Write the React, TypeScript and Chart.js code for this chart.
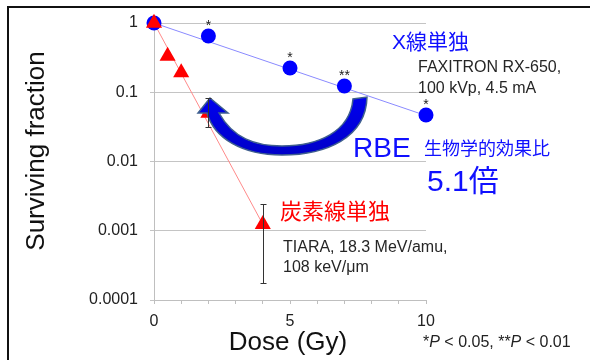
import React, { useEffect, useRef } from 'react';
import { Chart, registerables } from 'chart.js';

Chart.register(...registerables);

// ---- data ----
const xrayDose = [0, 2, 5, 7, 10];
const xraySurv = [1, 0.65, 0.224, 0.123, 0.047];
const xraySig = ['', '*', '*', '**', '*'];

const carbonDose = [0, 0.5, 1, 2, 4];
const carbonSurv = [1, 0.334, 0.192, 0.05, 0.00124];
const carbonErrLow = [null, null, null, 0.031, 0.000177];
const carbonErrHigh = [null, null, null, 0.083, 0.00245];

const xrayFitDose = [0, 10];
const xrayFitSurv = [1, 0.046];
const carbonFitDose = [0, 4];
const carbonFitSurv = [1, 0.00124];

const yTickValues = [0.0001, 0.001, 0.01, 0.1, 1];
const yTickLabels = ['0.0001', '0.001', '0.01', '0.1', '1'];
const xTickLabels = ['0', '5', '10'];

const xTitle = 'Dose (Gy)';
const yTitle = 'Surviving fraction';

const FONT = '"Liberation Sans", Arial, "Noto Sans CJK JP", sans-serif';

const toXY = (xs: number[], ys: number[]) => xs.map((x, i) => ({ x, y: ys[i] }));

function drawText(ctx: CanvasRenderingContext2D, text: string, x: number, y: number, size: number, color: string, align: CanvasTextAlign = 'left', baseline: CanvasTextBaseline = 'middle') {
  ctx.save();
  ctx.font = `${size}px ${FONT}`;
  ctx.fillStyle = color;
  ctx.textAlign = align;
  ctx.textBaseline = baseline;
  ctx.fillText(text, x, y);
  ctx.restore();
}

const overlayPlugin = {
  id: 'overlay',
  afterDatasetsDraw(chart: any) {
    const ctx: CanvasRenderingContext2D = chart.ctx;
    const xs = chart.scales.x;
    const ys = chart.scales.y;

    // curved RBE arrow
    ctx.save();
    ctx.beginPath();
    ctx.moveTo(210, 98);
    ctx.lineTo(228, 113);
    ctx.lineTo(219, 113);
    ctx.bezierCurveTo(233, 138, 255, 146, 282, 146);
    ctx.bezierCurveTo(318, 146, 350, 132, 353, 99);
    ctx.lineTo(367, 97);
    ctx.bezierCurveTo(366, 138, 326, 155, 282, 155);
    ctx.bezierCurveTo(242, 155, 214, 138, 207, 113);
    ctx.lineTo(198, 113);
    ctx.closePath();
    const g = ctx.createLinearGradient(0, 95, 0, 156);
    g.addColorStop(0, '#0000f0');
    g.addColorStop(1, '#0000c8');
    ctx.fillStyle = g;
    ctx.fill();
    ctx.lineWidth = 1.5;
    ctx.strokeStyle = '#3f5f8e';
    ctx.stroke();
    ctx.restore();

    // error bars
    ctx.save();
    ctx.strokeStyle = '#333333';
    ctx.lineWidth = 1;
    carbonDose.forEach((d, i) => {
      const lo = carbonErrLow[i];
      const hi = carbonErrHigh[i];
      if (lo == null || hi == null) return;
      const px = Math.round(xs.getPixelForValue(d)) + 0.5;
      const y1 = Math.round(ys.getPixelForValue(hi)) + 0.5;
      const y2 = Math.round(ys.getPixelForValue(lo)) + 0.5;
      ctx.beginPath();
      ctx.moveTo(px, y1);
      ctx.lineTo(px, y2);
      ctx.moveTo(px - 3, y1);
      ctx.lineTo(px + 3, y1);
      ctx.moveTo(px - 3, y2);
      ctx.lineTo(px + 3, y2);
      ctx.stroke();
    });
    ctx.restore();

    // significance asterisks
    xrayDose.forEach((d, i) => {
      const s = xraySig[i];
      if (!s) return;
      const px = xs.getPixelForValue(d);
      const py = ys.getPixelForValue(xraySurv[i]);
      drawText(ctx, s, px, py - 6, 14, '#222222', 'center', 'alphabetic');
    });
  },
  afterDraw(chart: any) {
    const ctx: CanvasRenderingContext2D = chart.ctx;
    // axis titles
    ctx.save();
    ctx.translate(37, 151);
    ctx.rotate(-Math.PI / 2);
    drawText(ctx, yTitle, 0, 0, 26, '#111111', 'center', 'middle');
    ctx.restore();
    drawText(ctx, xTitle, 288, 343, 26, '#111111', 'center', 'middle');

    // annotations
    drawText(ctx, 'X線単独', 392, 43, 21, '#1010ff');
    drawText(ctx, 'FAXITRON RX-650,', 418, 68, 16, '#262626');
    drawText(ctx, '100 kVp, 4.5 mA', 418, 89, 16, '#262626');
    drawText(ctx, 'RBE', 353, 157, 28, '#1010ff', 'left', 'alphabetic');
    drawText(ctx, '生物学的効果比', 424, 150, 18, '#1010ff');
    drawText(ctx, '5.1倍', 427, 183, 30, '#1010ff');
    drawText(ctx, '炭素線単独', 280, 213, 22, '#ff0000');
    drawText(ctx, 'TIARA, 18.3 MeV/amu,', 283, 248, 16, '#262626');
    drawText(ctx, '108 keV/μm', 283, 268, 16, '#262626');

    // p-value note with italic P
    const parts: [string, boolean][] = [['*', false], ['P', true], [' < 0.05, **', false], ['P', true], [' < 0.01', false]];
    let x = 423;
    ctx.save();
    ctx.fillStyle = '#222222';
    ctx.textBaseline = 'middle';
    ctx.textAlign = 'left';
    parts.forEach(([t, it]) => {
      ctx.font = `${it ? 'italic ' : ''}16px ${FONT}`;
      ctx.fillText(t, x, 343);
      x += ctx.measureText(t).width;
    });
    ctx.restore();

    // frame
    ctx.save();
    ctx.fillStyle = '#111111';
    ctx.fillRect(7, 6, 2, 360);
    ctx.fillRect(7, 6, 590, 2);
    ctx.restore();
  },
};

export default function App() {
  const ref = useRef<HTMLCanvasElement>(null);

  useEffect(() => {
    if (!ref.current) return;
    const chart = new Chart(ref.current, {
      type: 'scatter',
      data: {
        datasets: [
          {
            label: '炭素線単独',
            data: toXY(carbonDose, carbonSurv),
            showLine: false,
            clip: false,
            pointStyle: 'triangle',
            pointRadius: 9.3,
            backgroundColor: '#ff0000',
            borderColor: '#ff0000',
            borderWidth: 0,
          },
          {
            label: 'X線単独',
            data: toXY(xrayDose, xraySurv),
            showLine: false,
            clip: false,
            pointStyle: 'circle',
            pointRadius: 7.5,
            backgroundColor: '#0000ff',
            borderColor: '#0000ff',
            borderWidth: 0,
          },
          {
            label: 'carbon fit',
            data: toXY(carbonFitDose, carbonFitSurv),
            showLine: true,
            clip: false,
            pointRadius: 0,
            borderColor: '#ff8a8a',
            borderWidth: 1,
          },
          {
            label: 'x-ray fit',
            data: toXY(xrayFitDose, xrayFitSurv),
            showLine: true,
            clip: false,
            pointRadius: 0,
            borderColor: '#8a8aff',
            borderWidth: 1,
          },
        ],
      },
      options: {
        responsive: false,
        animation: false,
        layout: { padding: { left: 0, right: 164, top: 23, bottom: 0 } },
        plugins: {
          legend: { display: false },
          tooltip: { enabled: false },
        },
        scales: {
          x: {
            type: 'linear',
            min: 0,
            max: 10,
            afterFit: (s: any) => { s.height = 60; },
            ticks: {
              stepSize: 1,
              autoSkip: false,
              maxRotation: 0,
              padding: 8,
              color: '#222222',
              font: { size: 16, family: FONT },
              callback: (v: any) => (xTickLabels.includes(String(v)) ? String(v) : ''),
            },
            grid: { drawOnChartArea: false, drawTicks: true, tickLength: 4, color: '#bfbfbf' },
            border: { display: true, color: '#bfbfbf' },
          },
          y: {
            type: 'logarithmic',
            min: 0.0001,
            max: 1,
            afterFit: (s: any) => { s.width = 154; },
            afterBuildTicks: (s: any) => { s.ticks = yTickValues.map((v) => ({ value: v })); },
            ticks: {
              padding: 12,
              color: '#222222',
              font: { size: 16, family: FONT },
              callback: (v: any) => {
                const i = yTickValues.findIndex((t) => Math.abs(Math.log10(t) - Math.log10(v)) < 1e-6);
                return i >= 0 ? yTickLabels[i] : '';
              },
            },
            grid: { color: '#c4c4c4', tickLength: 4 },
            border: { display: true, color: '#bfbfbf' },
          },
        },
      },
      plugins: [overlayPlugin],
    });
    return () => chart.destroy();
  }, []);

  return (
    <div style={{ position: 'fixed', left: 0, top: 0, width: 590, height: 360, background: '#ffffff' }}>
      <canvas ref={ref} width={590} height={360} style={{ display: 'block' }} />
    </div>
  );
}
